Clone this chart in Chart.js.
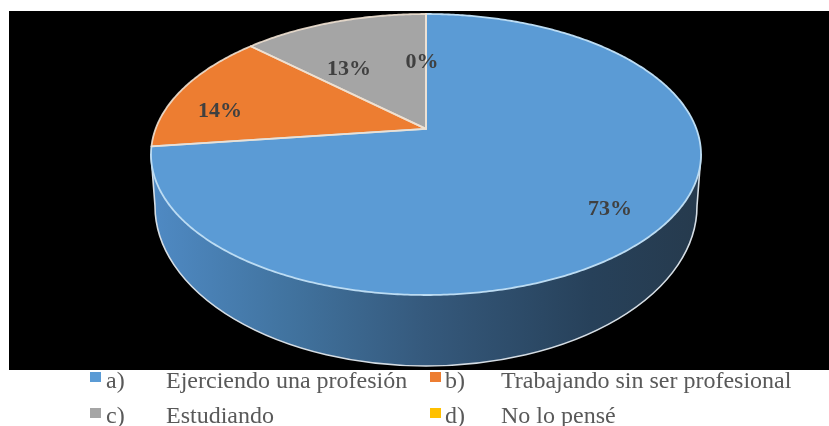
<!DOCTYPE html>
<html>
<head>
<meta charset="utf-8">
<style>
html,body{margin:0;padding:0;background:#fff;}
canvas{display:block;}
</style>
<script src="https://cdn.jsdelivr.net/npm/chart.js@4/dist/chart.umd.js"></script>
</head>
<body>
<canvas id="myChart" width="829" height="426"></canvas>
<script>
const categoryKeys = ['a)', 'b)', 'c)', 'd)'];
const categories = ['Ejerciendo una profesión', 'Trabajando sin ser profesional', 'Estudiando', 'No lo pensé'];
const values = [73, 14, 13, 0];
const colors = ['#5B9BD5', '#ED7D31', '#A5A5A5', '#FFC000'];

// top face of the tilted pie, and the rim of the base under it
const top_ = {x: 426, y: 154.5, rx: 275, ry: 140.5, tilt: -0.182};
const base = {x: 426, y: 206, rx: 271, ry: 160};

// where the % labels and legend rows sit
const labelPos = [[610, 209], [220, 111], [349, 69], [422, 62]];
const legendCols = [{box: 90, key: 106, text: 166}, {box: 430, key: 445, text: 501}];
const legendRows = [{box: 372, text: 388}, {box: 408, text: 423}];

// perspective: a point on the unit disc goes to the ellipse, centre moves up
function project(angle, r){
    const ux = Math.cos(angle) * r, uy = Math.sin(angle) * r;
    const t = top_.tilt, d = 1 + t * uy;
    return [top_.x + top_.rx * ux * Math.sqrt(1 - t * t) / d,
            top_.y + top_.ry * (uy + t) / d];
}

function wedgePath(ctx, start, end){
    const apex = project(0, 0);
    ctx.beginPath();
    ctx.moveTo(apex[0], apex[1]);
    const steps = Math.max(1, Math.ceil((end - start) / 0.01));
    for(let i = 0; i <= steps; i++){
        const p = project(start + (end - start) * i / steps, 1);
        ctx.lineTo(p[0], p[1]);
    }
    ctx.closePath();
}

const pie3d = {
    id: 'pie3d',
    beforeDraw(chart){
        const ctx = chart.ctx;
        ctx.save();
        ctx.fillStyle = '#000';
        ctx.fillRect(9, 11, 820, 359);
        ctx.restore();
    },
    beforeDatasetsDraw(chart){
        const ctx = chart.ctx;
        const arcs = chart.getDatasetMeta(0).data;
        ctx.save();

        // side wall
        const grad = ctx.createLinearGradient(151, 0, 701, 0);
        grad.addColorStop(0, '#4f8ac4');
        grad.addColorStop(0.25, '#41739f');
        grad.addColorStop(0.5, '#35597c');
        grad.addColorStop(0.8, '#27415a');
        grad.addColorStop(1, '#263a4d');
        ctx.beginPath();
        ctx.moveTo(top_.x - top_.rx, top_.y);
        ctx.lineTo(base.x - base.rx, base.y);
        ctx.ellipse(base.x, base.y, base.rx, base.ry, 0, Math.PI, 0, true);
        ctx.lineTo(top_.x + top_.rx, top_.y);
        ctx.closePath();
        ctx.fillStyle = grad;
        ctx.fill();
        ctx.strokeStyle = '#d5dde4';
        ctx.lineWidth = 1.6;
        ctx.stroke();

        // faces
        arcs.forEach(function(arc, i){
            if(arc.endAngle - arc.startAngle <= 0) return;
            wedgePath(ctx, arc.startAngle, arc.endAngle);
            ctx.fillStyle = colors[i];
            ctx.fill();
        });
        arcs.forEach(function(arc, i){
            wedgePath(ctx, arc.startAngle, arc.endAngle);
            ctx.strokeStyle = i == 0 ? '#bcdcf3' : 'rgba(240,225,210,0.9)';
            ctx.lineWidth = 1.8;
            ctx.lineJoin = 'round';
            ctx.stroke();
        });
        ctx.restore();
        return false;
    },
    afterDraw(chart){
        const ctx = chart.ctx;
        ctx.save();

        ctx.font = 'bold 22px "Liberation Serif"';
        ctx.fillStyle = '#404040';
        ctx.textAlign = 'center';
        ctx.textBaseline = 'middle';
        values.forEach(function(v, i){
            ctx.fillText(v + '%', labelPos[i][0], labelPos[i][1]);
        });

        ctx.textAlign = 'left';
        ctx.textBaseline = 'alphabetic';
        ctx.font = '24px "Liberation Serif"';
        categories.forEach(function(name, i){
            const col = legendCols[i % 2], row = legendRows[Math.floor(i / 2)];
            ctx.fillStyle = colors[i];
            ctx.fillRect(col.box, row.box, 11, 10);
            ctx.fillStyle = '#595959';
            ctx.fillText(categoryKeys[i], col.key, row.text);
            ctx.fillText(name, col.text, row.text);
        });
        ctx.restore();
    }
};

const ctx = document.getElementById('myChart').getContext('2d');
const myChart = new Chart(ctx, {
    type: 'pie',
    data: {
        labels: categories,
        datasets: [{
            data: values,
            backgroundColor: colors
        }]
    },
    options: {
        responsive: false,
        animation: false,
        plugins: {
            legend: {display: false},
            tooltip: {enabled: false}
        }
    },
    plugins: [pie3d]
});
</script>
</body>
</html>
